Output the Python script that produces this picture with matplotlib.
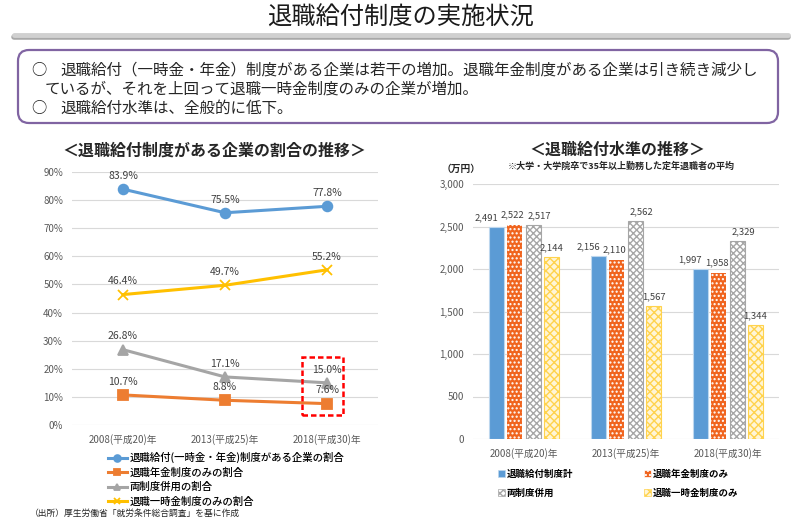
import numpy as np
import matplotlib
matplotlib.use("Agg")
import matplotlib.pyplot as plt
from matplotlib.patches import FancyBboxPatch, Rectangle, Patch

plt.rcParams['font.family'] = ['Noto Sans CJK JP', 'DejaVu Sans']

# カテゴリ
years = ["2008(平成20)年", "2013(平成25)年", "2018(平成30)年"]

# 退職給付制度がある企業の割合 (%)
share_total = [83.9, 75.5, 77.8]
share_pension_only = [10.7, 8.8, 7.6]
share_both = [26.8, 17.1, 15.0]
share_lump_only = [46.4, 49.7, 55.2]
share_labels = ["退職給付(一時金・年金)制度がある企業の割合",
                "退職年金制度のみの割合",
                "両制度併用の割合",
                "退職一時金制度のみの割合"]

# 退職給付水準 (万円)
amount_total = [2491, 2156, 1997]
amount_pension_only = [2522, 2110, 1958]
amount_both = [2517, 2562, 2329]
amount_lump_only = [2144, 1567, 1344]
amount_labels = ["退職給付制度計", "退職年金制度のみ", "両制度併用", "退職一時金制度のみ"]

TXT = '#262626'
TICK = '#595959'
LBL = '#404040'

fig = plt.figure(figsize=(8, 5.2), dpi=100)

# 背景用の軸 (ピクセル座標)
bg = fig.add_axes([0, 0, 1, 1])
bg.set_xlim(0, 800)
bg.set_ylim(520, 0)
bg.axis('off')

bg.text(400, 18, "退職給付制度の実施状況", ha='center', va='center', fontsize=17.5, color='#1a1a1a')
bg.plot([14, 788], [36.5, 36.5], lw=4, color='#A8A8A8', solid_capstyle='round')
bg.plot([14, 788], [34.5, 34.5], lw=3.5, color='#D0D0D0', solid_capstyle='round')

box = FancyBboxPatch((18, 50), 760, 73, boxstyle="round,pad=0,rounding_size=11",
                     ec='#8064A2', fc='white', lw=1.6)
bg.add_patch(box)
bg.text(31, 70, "○", fontsize=11, va='center', color=TXT)
bg.text(60, 70, "退職給付（一時金・年金）制度がある企業は若干の増加。退職年金制度がある企業は引き続き減少し",
        fontsize=11.2, va='center', color=TXT)
bg.text(45, 89, "ているが、それを上回って退職一時金制度のみの企業が増加。", fontsize=11.2, va='center', color=TXT)
bg.text(31, 108, "○", fontsize=11, va='center', color=TXT)
bg.text(60, 108, "退職給付水準は、全般的に低下。", fontsize=11.2, va='center', color=TXT)

# ---- 左: 割合の推移 ----
bg.text(214, 151, "＜退職給付制度がある企業の割合の推移＞", ha='center', va='center',
        fontsize=11.5, fontweight='bold', color=TXT)

axL = fig.add_axes([72/800, 95/520, 306/800, 253/520])
x = np.arange(len(years))
line_styles = [
    (share_total, '#5B9BD5', 'o', 7),
    (share_pension_only, '#ED7D31', 's', 6.5),
    (share_both, '#A5A5A5', '^', 7),
    (share_lump_only, '#FFC000', 'x', 7),
]
for (vals, c, m, ms), lab in zip(line_styles, share_labels):
    axL.plot(x, vals, color=c, lw=2.2, marker=m, ms=ms, mew=1.3, label=lab)
    for xi, v in zip(x, vals):
        axL.annotate(f"{v:.1f}%", (xi, v), xytext=(0, 9.5), textcoords='offset points',
                     ha='center', va='center', fontsize=7.5, color=LBL)

axL.set_xlim(-0.5, 2.5)
axL.set_ylim(0, 90)
axL.set_yticks(range(0, 91, 10))
axL.set_yticklabels([f"{t}%" for t in range(0, 91, 10)])
axL.set_xticks(x)
axL.set_xticklabels(years)
axL.grid(axis='y', color='#D9D9D9', lw=0.8)
axL.set_axisbelow(True)
for s in axL.spines.values():
    s.set_visible(False)
axL.tick_params(length=0, labelsize=7, colors=TICK, pad=6.5)

axL.add_patch(Rectangle((1.755, 3.6), 0.40, 20.7, fill=False, ec='#FF0000', lw=1.8,
                        ls=(0, (2.2, 1.2)), clip_on=False, zorder=5))

axL.legend(loc='upper left', bbox_to_anchor=(108/800, (520-452)/520), bbox_transform=fig.transFigure,
           frameon=False, handlelength=1.8, labelspacing=0.4, handletextpad=0.3,
           borderpad=0, borderaxespad=0, markerscale=0.7, prop={'size': 7.5, 'weight': 'medium'})

bg.text(30, 513, "（出所）厚生労働省「就労条件総合調査」を基に作成", fontsize=6.3, va='center', color=TXT)

# ---- 右: 退職給付水準の推移 ----
bg.text(617, 150, "＜退職給付水準の推移＞", ha='center', va='center', fontsize=11.5,
        fontweight='bold', color=TXT)
bg.text(621, 166, "※大学・大学院卒で35年以上勤務した定年退職者の平均", ha='center', va='center',
        fontsize=6.5, fontweight='bold', color=TXT)
bg.text(461, 169, "（万円）", ha='center', va='center', fontsize=7, fontweight='bold', color=TXT)

axR = fig.add_axes([473/800, 81/520, 306/800, 255/520])
bar_series = [amount_total, amount_pension_only, amount_both, amount_lump_only]
bar_styles = [
    dict(fc='#5B9BD5', ec='#BDD7EE', lw=0.8, hatch=None),
    dict(fc='#F0641E', ec='white', lw=0, hatch='....'),
    dict(fc='white', ec='#A6A6A6', lw=0.8, hatch='xxxxx'),
    dict(fc='#FFF5D6', ec='#FFD34D', lw=0.8, hatch='xxxx'),
]
offsets = [-0.27, -0.09, 0.09, 0.27]
label_dx = [-7.2, -1.4, 4.3, 0]
w = 0.15
for vals, st, off, dx in zip(bar_series, bar_styles, offsets, label_dx):
    axR.bar(x + off, vals, width=w, facecolor=st['fc'], edgecolor=st['ec'],
            linewidth=st['lw'], hatch=st['hatch'])
    for xi, v in zip(x, vals):
        axR.annotate(f"{v:,}", (xi + off, v), xytext=(dx, 3.5), textcoords='offset points',
                     ha='center', va='bottom', fontsize=6.8, color=LBL)

axR.set_xlim(-0.5, 2.5)
axR.set_ylim(0, 3000)
axR.set_yticks(range(0, 3001, 500))
axR.set_yticklabels([f"{t:,}" for t in range(0, 3001, 500)])
axR.set_xticks(x)
axR.set_xticklabels(years)
axR.grid(axis='y', color='#D9D9D9', lw=0.8)
axR.set_axisbelow(True)
for s in axR.spines.values():
    s.set_visible(False)
axR.tick_params(length=0, labelsize=7, colors=TICK, pad=6.5)

order = [0, 2, 1, 3]
handles = [Patch(facecolor=bar_styles[i]['fc'], edgecolor=bar_styles[i]['ec'],
                 hatch=bar_styles[i]['hatch'], lw=0.5) for i in order]
axR.legend(handles, [amount_labels[i] for i in order], loc='upper left',
           bbox_to_anchor=(498/800, (520-469)/520), bbox_transform=fig.transFigure,
           ncol=2, frameon=False, handlelength=0.7, handleheight=0.7, handletextpad=0.25,
           columnspacing=7.5, labelspacing=0.9, borderpad=0, borderaxespad=0,
           prop={'size': 6.8, 'weight': 'bold'})

fig.savefig("out.png", dpi=100)
